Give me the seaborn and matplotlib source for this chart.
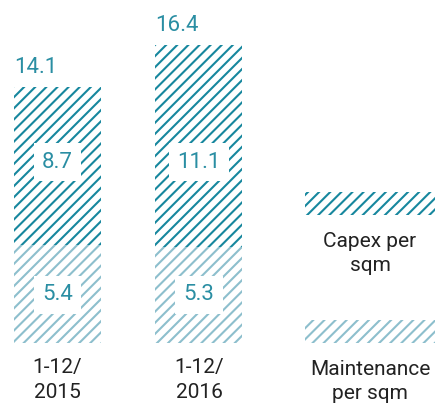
import matplotlib
matplotlib.use('Agg')
import matplotlib.pyplot as plt
from matplotlib.patches import Rectangle
import seaborn as sns

sns.set_theme(style='white')
plt.rcParams['font.family'] = ['Roboto', 'DejaVu Sans']
plt.rcParams['hatch.linewidth'] = 1.5

periods = ['1-12/\n2015', '1-12/\n2016']
maintenance = [5.4, 5.3]
capex = [8.7, 11.1]
totals = [14.1, 16.4]
series_names = ['Capex per\nsqm', 'Maintenance\nper sqm']

DARK = '#17879e'
LIGHT = '#8dbfcd'
TEXT = '#2a8ea3'
HATCH = '///'

fig = plt.figure(figsize=(4.45, 4.07), dpi=100)
ax = fig.add_axes([0, 64 / 407, 1, 343 / 407])

x = range(len(periods))
w = 0.615
ax.bar(x, maintenance, width=w, facecolor='white', edgecolor=LIGHT,
       hatch=HATCH, linewidth=0)
ax.bar(x, capex, bottom=maintenance, width=w, facecolor='white',
       edgecolor=DARK, hatch=HATCH, linewidth=0)

ax.set_xlim(-0.406, 2.739)
ax.set_ylim(0, 18.89)
ax.axis('off')

box = dict(facecolor='white', edgecolor='none', pad=6)
for i in x:
    ax.text(i, 2.65, f'{maintenance[i]}', ha='center', va='center',
            fontsize=16, color=TEXT, bbox=box)
    ax.text(i, 9.95, f'{capex[i]}', ha='center', va='center',
            fontsize=16, color=TEXT, bbox=box)
    ax.text(i - w / 2, totals[i] + 0.5, f'{totals[i]}', ha='left',
            va='bottom', fontsize=16, color=TEXT)
    ax.text(i, -0.85, periods[i], ha='center', va='top', fontsize=15,
            color='#222222', linespacing=1.35)

# legend swatches on the right
for (y0, col, name) in [(192, DARK, series_names[0]), (320, LIGHT, series_names[1])]:
    fig.patches.append(Rectangle((305 / 445, 1 - (y0 + 23) / 407), 130 / 445, 23 / 407,
                                 transform=fig.transFigure, facecolor='white',
                                 edgecolor=col, hatch=HATCH, linewidth=0))
    fig.text(370 / 445, 1 - (y0 + 40) / 407, name, ha='center', va='top',
             fontsize=15, color='#222222', linespacing=1.35)

fig.savefig('out.png', dpi=100)
